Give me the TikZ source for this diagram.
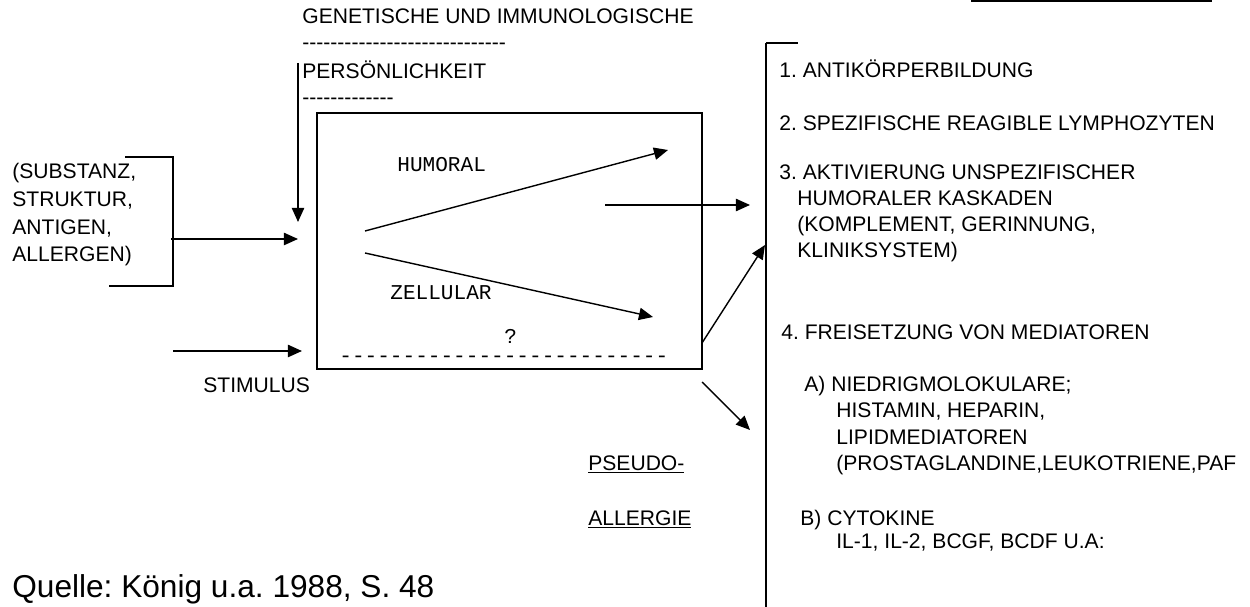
\documentclass[tikz,border=0pt]{standalone}
\usepackage{fontspec}
\setmainfont{Liberation Sans}
\setmonofont{Liberation Mono}
\usetikzlibrary{arrows.meta}
\frenchspacing

% a row of single hyphens, kept apart so no dash ligature forms
\newcommand{\hyphrow}[1]{\foreach \i in {1,...,#1}{-\kern0pt}}

\tikzset{
  lbl/.style={anchor=base west, inner sep=0pt, font=\fontsize{12}{14}\selectfont},
  mono/.style={lbl, font=\ttfamily\fontsize{12}{14}\selectfont},
  arr/.style={-{Triangle[length=8pt,width=7pt]}, line width=0.8pt},
  frame/.style={line width=0.8pt},
}

\begin{document}
\begin{tikzpicture}[x=0.02cm,y=-0.02cm]
    \useasboundingbox (0,0) rectangle (1250,607);

    % influences from above
    \node[lbl] (gen) at (302,24) {GENETISCHE UND IMMUNOLOGISCHE};
    \node[lbl] (gendash) at (302,50) {\hyphrow{29}};
    \node[lbl] (pers) at (302,79) {PERSÖNLICHKEIT};
    \node[lbl] (persdash) at (302,105) {\hyphrow{13}};

    % stimulus side
    \node[lbl] (subst) at (12,179) {(SUBSTANZ,};
    \node[lbl] (strukt) at (12,207) {STRUKTUR,};
    \node[lbl] (antig) at (12,235) {ANTIGEN,};
    \node[lbl] (allerg) at (12,262) {ALLERGEN)};
    \node[lbl] (stim) at (203,393) {STIMULUS};
    \draw[frame] (125,157) -- (173,157) -- (173,286) -- (109,286);

    % the organism
    \draw[line width=1pt] (317,113) rectangle (702,369);
    \node[mono] (hum) at (397,172) {HUMORAL};
    \node[mono] (zell) at (390,300) {ZELLULAR};
    \node[mono] (ques) at (504,344) {?};
    \node[mono] (qdash) at (339,363) {\hyphrow{26}};

    % reactions
    \draw[frame] (766,43) -- (798,43);
    \draw[frame] (766,43) -- (766,607);
    \draw[line width=1.2pt] (971,1) -- (1212,1);
    \node[lbl] (r1) at (779,78) {1. ANTIKÖRPERBILDUNG};
    \node[lbl] (r2) at (779,131) {2. SPEZIFISCHE REAGIBLE LYMPHOZYTEN};
    \node[lbl] (r3) at (779,180) {3. AKTIVIERUNG UNSPEZIFISCHER};
    \node[lbl] (r3b) at (797,206) {HUMORALER KASKADEN};
    \node[lbl] (r3c) at (797,232) {(KOMPLEMENT, GERINNUNG,};
    \node[lbl] (r3d) at (797,258) {KLINIKSYSTEM)};
    \node[lbl] (r4) at (781,340) {4. FREISETZUNG VON MEDIATOREN};
    \node[lbl] (r4a) at (804,392) {A) NIEDRIGMOLOKULARE;};
    \node[lbl] (r4a2) at (836,418) {HISTAMIN, HEPARIN,};
    \node[lbl] (r4a3) at (836,444) {LIPIDMEDIATOREN};
    \node[lbl] (r4a4) at (836,470) {(PROSTAGLANDINE,LEUKOTRIENE,PAF};
    \node[lbl] (r4b) at (800,525) {B) CYTOKINE};
    \node[lbl] (r4b2) at (836,548) {IL-1, IL-2, BCGF, BCDF U.A:};
    \node[lbl] (pseudo) at (588,470) {\underline{PSEUDO-}};
    \node[lbl] (allergie) at (588,525) {\underline{ALLERGIE}};

    \node[lbl, font=\fontsize{18}{22}\selectfont] (quelle) at (12,597) {Quelle: König u.a. 1988, S. 48};

    % arrow ends
    \coordinate (persA) at (298,63);
    \coordinate (persB) at (298,222);
    \coordinate (substA) at (171,239);
    \coordinate (substB) at (298,239);
    \coordinate (stimA) at (173,351);
    \coordinate (stimB) at (302,351);
    \coordinate (split) at (365,231);
    \coordinate (humB) at (668,150);
    \coordinate (split2) at (365,253);
    \coordinate (zellB) at (653,317);
    \coordinate (midA) at (605,205);
    \coordinate (midB) at (750,205);
    \coordinate (diagA) at (702,343);
    \coordinate (diagB) at (765,245);
    \coordinate (pseA) at (702,382);
    \coordinate (pseB) at (750,430);

    \draw[arr] (persA) -- (persB);
    \draw[arr] (substA) -- (substB);
    \draw[arr] (stimA) -- (stimB);
    \draw[arr] (split) -- (humB);
    \draw[arr] (split2) -- (zellB);
    \draw[arr] (midA) -- (midB);
    \draw[arr] (diagA) -- (diagB);
    \draw[arr] (pseA) -- (pseB);
\end{tikzpicture}
\end{document}
